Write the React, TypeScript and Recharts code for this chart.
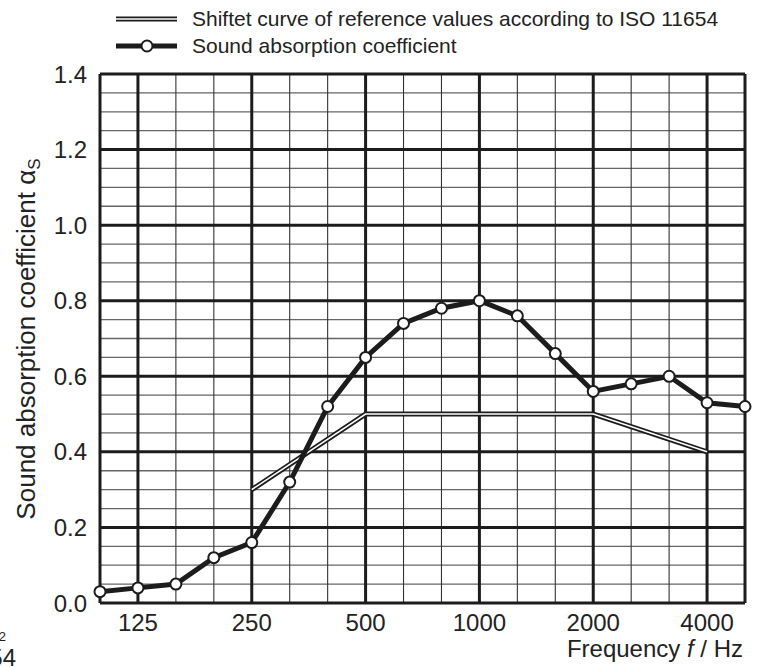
import React from 'react';
import { LineChart, Line, XAxis, YAxis, ReferenceLine } from 'recharts';

const FONT = '"Liberation Sans", Arial, Helvetica, sans-serif';

// One-third octave band centre frequencies (Hz)
const freqs = ['100', '125', '160', '200', '250', '315', '400', '500', '630', '800', '1000', '1250', '1600', '2000', '2500', '3150', '4000', '5000'];
// Measured sound absorption coefficient
const absorption = [0.03, 0.04, 0.05, 0.12, 0.16, 0.32, 0.52, 0.65, 0.74, 0.78, 0.80, 0.76, 0.66, 0.56, 0.58, 0.60, 0.53, 0.52];
// Shifted ISO 11654 reference curve
const reference = [null, null, null, null, 0.30, null, null, 0.50, null, null, null, null, null, 0.50, null, null, 0.40, null];
// Labelled (octave) frequencies
const xTickFreqs = ['125', '250', '500', '1000', '2000', '4000'];
const yTicks = [0, 0.2, 0.4, 0.6, 0.8, 1.0, 1.2, 1.4];
const yMinor = [0.05, 0.1, 0.15, 0.25, 0.3, 0.35, 0.45, 0.5, 0.55, 0.65, 0.7, 0.75, 0.85, 0.9, 0.95, 1.05, 1.1, 1.15, 1.25, 1.3, 1.35];

const xTickIdx = xTickFreqs.map((f) => freqs.indexOf(f));
const xMinorIdx = freqs.map((_, i) => i).filter((i) => i > 0 && i < freqs.length - 1 && !xTickIdx.includes(i));

const INK = '#1c1c1c';

export default function App() {
  const data = freqs.map((f, i) => ({ idx: i, freq: f, absorption: absorption[i], reference: reference[i] }));
  const lastIdx = freqs.length - 1;
  return (
    <div style={{ position: 'absolute', left: 0, top: 0, width: 757, height: 667, background: '#fff' }}>
      <LineChart width={757} height={667} data={data} margin={{ top: 74, right: 12, bottom: 0, left: 0 }}>
        <XAxis
          dataKey="idx"
          type="number"
          domain={[0, lastIdx]}
          ticks={xTickIdx}
          tickFormatter={(v: number) => freqs[v]}
          axisLine={false}
          tickLine={false}
          tickSize={0}
          tickMargin={11}
          height={64}
          interval={0}
          tick={{ fontSize: 24, fill: '#222', fontFamily: FONT }}
        />
        <YAxis
          type="number"
          domain={[0, 1.4]}
          ticks={yTicks}
          tickFormatter={(v: number) => v.toFixed(1)}
          axisLine={false}
          tickLine={false}
          tickSize={0}
          tickMargin={13}
          width={100}
          interval={0}
          tick={{ fontSize: 24, fill: '#222', fontFamily: FONT }}
        />
        {yMinor.map((v) => (
          <ReferenceLine key={'ym' + v} y={v} stroke="#666" strokeWidth={1.3} />
        ))}
        {xMinorIdx.map((v) => (
          <ReferenceLine key={'xm' + v} x={v} stroke="#333" strokeWidth={1.1} />
        ))}
        {yTicks.map((v) => (
          <ReferenceLine key={'yM' + v} y={v} stroke={INK} strokeWidth={3} />
        ))}
        {xTickIdx.map((v) => (
          <ReferenceLine key={'xM' + v} x={v} stroke={INK} strokeWidth={3} />
        ))}
        <ReferenceLine x={0} stroke={INK} strokeWidth={3} />
        <ReferenceLine x={lastIdx} stroke={INK} strokeWidth={3} />
        <Line
          dataKey="reference"
          stroke={INK}
          strokeWidth={5}
          dot={false}
          connectNulls
          isAnimationActive={false}
          strokeLinecap="butt"
        />
        <Line
          dataKey="reference"
          stroke="#fff"
          strokeWidth={1.6}
          dot={false}
          connectNulls
          isAnimationActive={false}
          strokeLinecap="butt"
        />
        <Line
          dataKey="absorption"
          stroke={INK}
          strokeWidth={5}
          dot={{ r: 5.5, fill: '#fff', stroke: INK, strokeWidth: 2 }}
          isAnimationActive={false}
        />
      </LineChart>
      <svg
        width={757}
        height={667}
        style={{ position: 'absolute', left: 0, top: 0, pointerEvents: 'none' }}
        fontFamily={FONT}
      >
        {/* Legend */}
        <line x1={116} y1={19} x2={177} y2={19} stroke={INK} strokeWidth={5} />
        <line x1={116} y1={19} x2={177} y2={19} stroke="#fff" strokeWidth={1.6} />
        <text x={192} y={26} fontSize={21} fill="#222">Shiftet curve of reference values according to ISO 11654</text>
        <line x1={116} y1={46} x2={177} y2={46} stroke={INK} strokeWidth={5} />
        <circle cx={147} cy={46} r={5.5} fill="#fff" stroke={INK} strokeWidth={2} />
        <text x={192} y={53} fontSize={21} fill="#222">Sound absorption coefficient</text>
        {/* Y axis title */}
        <text x={35} y={339} fontSize={26} fill="#222" textAnchor="middle" transform="rotate(-90 35 339)">
          Sound absorption coefficient α<tspan fontSize={17} dy={5}>S</tspan>
        </text>
        {/* X axis title */}
        <text x={743} y={657} fontSize={24} fill="#222" textAnchor="end">
          Frequency <tspan fontStyle="italic">f</tspan> / Hz
        </text>
        {/* clipped fragments at the bottom-left edge */}
        <text x={6} y={641} fontSize={13} fill="#222" textAnchor="end">2</text>
        <text x={16} y={666} fontSize={24} fill="#222" textAnchor="end">54</text>
      </svg>
    </div>
  );
}
